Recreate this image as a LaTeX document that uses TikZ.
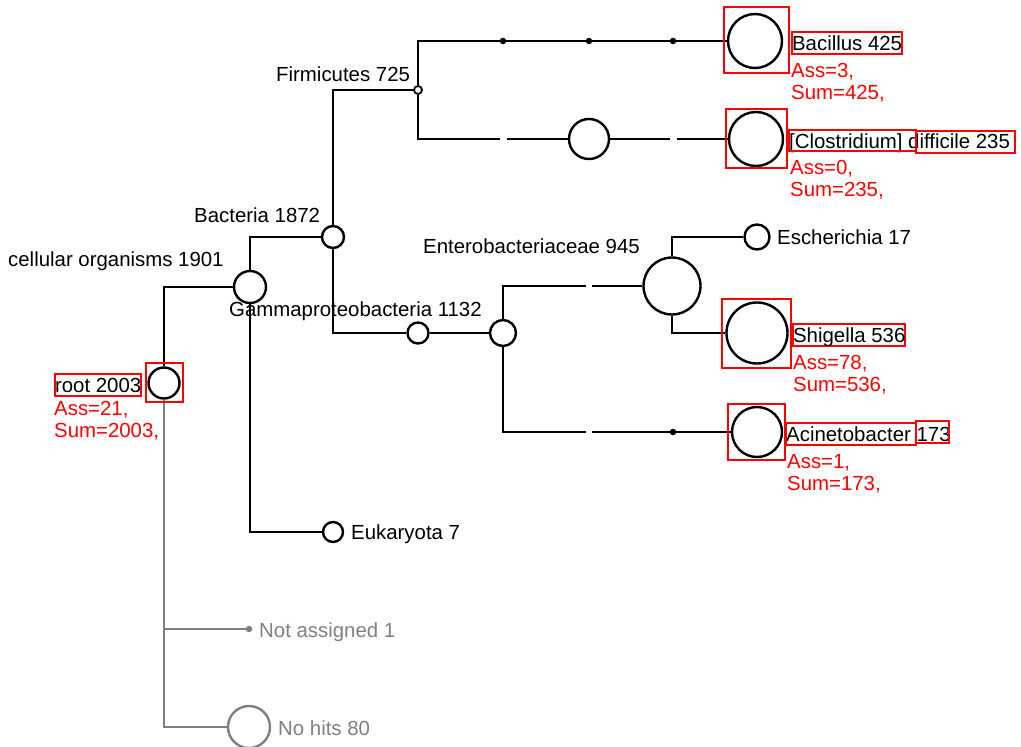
\documentclass[tikz,border=0pt]{standalone}
\usepackage{fontspec}
\setmainfont{Liberation Sans}
\definecolor{taxgray}{HTML}{808080}
\definecolor{hitred}{HTML}{FF0000}
\begin{document}
\begin{tikzpicture}[x=1pt,y=-1pt,
  every node/.style={font=\fontsize{20.4}{22}\selectfont},
  edge/.style={line width=2.4pt},
  grayedge/.style={line width=2.4pt, draw=taxgray},
  taxon/.style={circle, draw, line width=2.4pt, inner sep=0pt, minimum size=#1},
  rankdot/.style={circle, fill, inner sep=0pt, minimum size=6.5pt},
  plainlabel/.style={anchor=base west, inner sep=0pt},
  boxlabel/.style={anchor=north west, inner sep=0pt, text height=18.5pt, text depth=3.5pt},
  redframe/.style={draw=hitred, line width=2.2pt},
  info/.style={anchor=north west, inner sep=0pt, align=left, text=hitred}
]
\useasboundingbox (0,0) rectangle (1021,747);

% taxon nodes
\node[taxon=31] (root) at (164,383) {};
\node[taxon=32] (cell) at (250,287) {};
\node[taxon=22] (bact) at (333,237) {};
\node[taxon=20] (euk) at (333,532) {};
\node[taxon=8, line width=1.8pt] (firm) at (418,90) {};
\node[taxon=54] (bacil) at (755,41) {};
\node[taxon=40] (clmid) at (589,139) {};
\node[taxon=54] (clos) at (756,139) {};
\node[taxon=21] (prot) at (418,333) {};
\node[taxon=26] (gamma) at (503,333) {};
\node[taxon=57] (entero) at (672,286) {};
\node[taxon=25] (esch) at (757,237) {};
\node[taxon=61] (shig) at (757,333) {};
\node[taxon=50] (acin) at (757,432) {};
\node[rankdot] (d1) at (503,41) {};
\node[rankdot] (d2) at (589,41) {};
\node[rankdot] (d3) at (673,41) {};
\node[rankdot] (d4) at (673,432) {};
\node[rankdot, fill=taxgray] (na) at (249,629) {};
\node[taxon=42, draw=taxgray] (nohit) at (249,727) {};

% ends of the broken branch segments
\coordinate (c1a) at (500,139);
\coordinate (c1b) at (507,139);
\coordinate (c2a) at (670,139);
\coordinate (c2b) at (677,139);
\coordinate (e1a) at (586,286);
\coordinate (e1b) at (592,286);
\coordinate (a1a) at (586,432);
\coordinate (a1b) at (592,432);

% branches
\draw[edge] (root) |- (cell);
\draw[edge] (cell) |- (bact);
\draw[edge] (cell) |- (euk);
\draw[edge] (bact) |- (firm);
\draw[edge] (bact) |- (prot);
\draw[edge] (prot) -- (gamma);
\draw[edge] (firm) |- (d1) -- (d2) -- (d3) -- (bacil);
\draw[edge] (firm) |- (c1a);
\draw[edge] (c1b) -- (clmid) -- (c2a);
\draw[edge] (c2b) -- (clos);
\draw[edge] (gamma) |- (e1a);
\draw[edge] (e1b) -- (entero);
\draw[edge] (gamma) |- (a1a);
\draw[edge] (a1b) -- (d4) -- (acin);
\draw[edge] (entero) |- (esch);
\draw[edge] (entero) |- (shig);
\draw[grayedge] (root) |- (na);
\draw[grayedge] (root) |- (nohit);

% plain labels
\node[plainlabel] (lcell) at (8,266) {cellular organisms 1901};
\node[plainlabel] (lbact) at (194,222) {Bacteria 1872};
\node[plainlabel] (lfirm) at (276,81) {Firmicutes 725};
\node[plainlabel] (lgamma) at (229,316) {Gammaproteobacteria 1132};
\node[plainlabel] (lent) at (423,253) {Enterobacteriaceae 945};
\node[plainlabel] (lesch) at (777,244) {Escherichia 17};
\node[plainlabel] (leuk) at (351,539) {Eukaryota 7};
\node[plainlabel, text=taxgray] (lna) at (259,637) {Not assigned 1};
\node[plainlabel, text=taxgray] (lnh) at (278,735) {No hits 80};

% highlighted labels
\node[boxlabel, redframe] (lroot) at (54,373) {root 2003\hspace{3pt}};
\node[boxlabel, redframe] (lbacil) at (791,31) {Bacillus 425\hspace{4pt}};
\node[boxlabel] (lclos) at (789,130) {[Clostridium] difficile 235};
\draw[redframe] (789,130) rectangle (916,151);
\draw[redframe] (916,131) rectangle (1015,153);
\node[boxlabel, redframe] (lshig) at (792,323) {Shigella 536\hspace{5pt}};
\node[boxlabel] (lacin) at (786,423) {Acinetobacter 173};
\draw[redframe] (786,423) rectangle (916,445);
\draw[redframe] (916,421) rectangle (949,443);

% frames round highlighted circles
\draw[redframe] (146,363) rectangle (183,402);
\draw[redframe] (724,7) rectangle (789,73);
\draw[redframe] (726,109) rectangle (787,168);
\draw[redframe] (722,299) rectangle (791,368);
\draw[redframe] (728,404) rectangle (785,460);

% counts
\node[info] (iroot) at (54,401) {Ass=21,\\Sum=2003,};
\node[info] (ibacil) at (791,63) {Ass=3,\\Sum=425,};
\node[info] (iclos) at (790,160) {Ass=0,\\Sum=235,};
\node[info] (ishig) at (793,355) {Ass=78,\\Sum=536,};
\node[info] (iacin) at (787,454) {Ass=1,\\Sum=173,};
\end{tikzpicture}
\end{document}
